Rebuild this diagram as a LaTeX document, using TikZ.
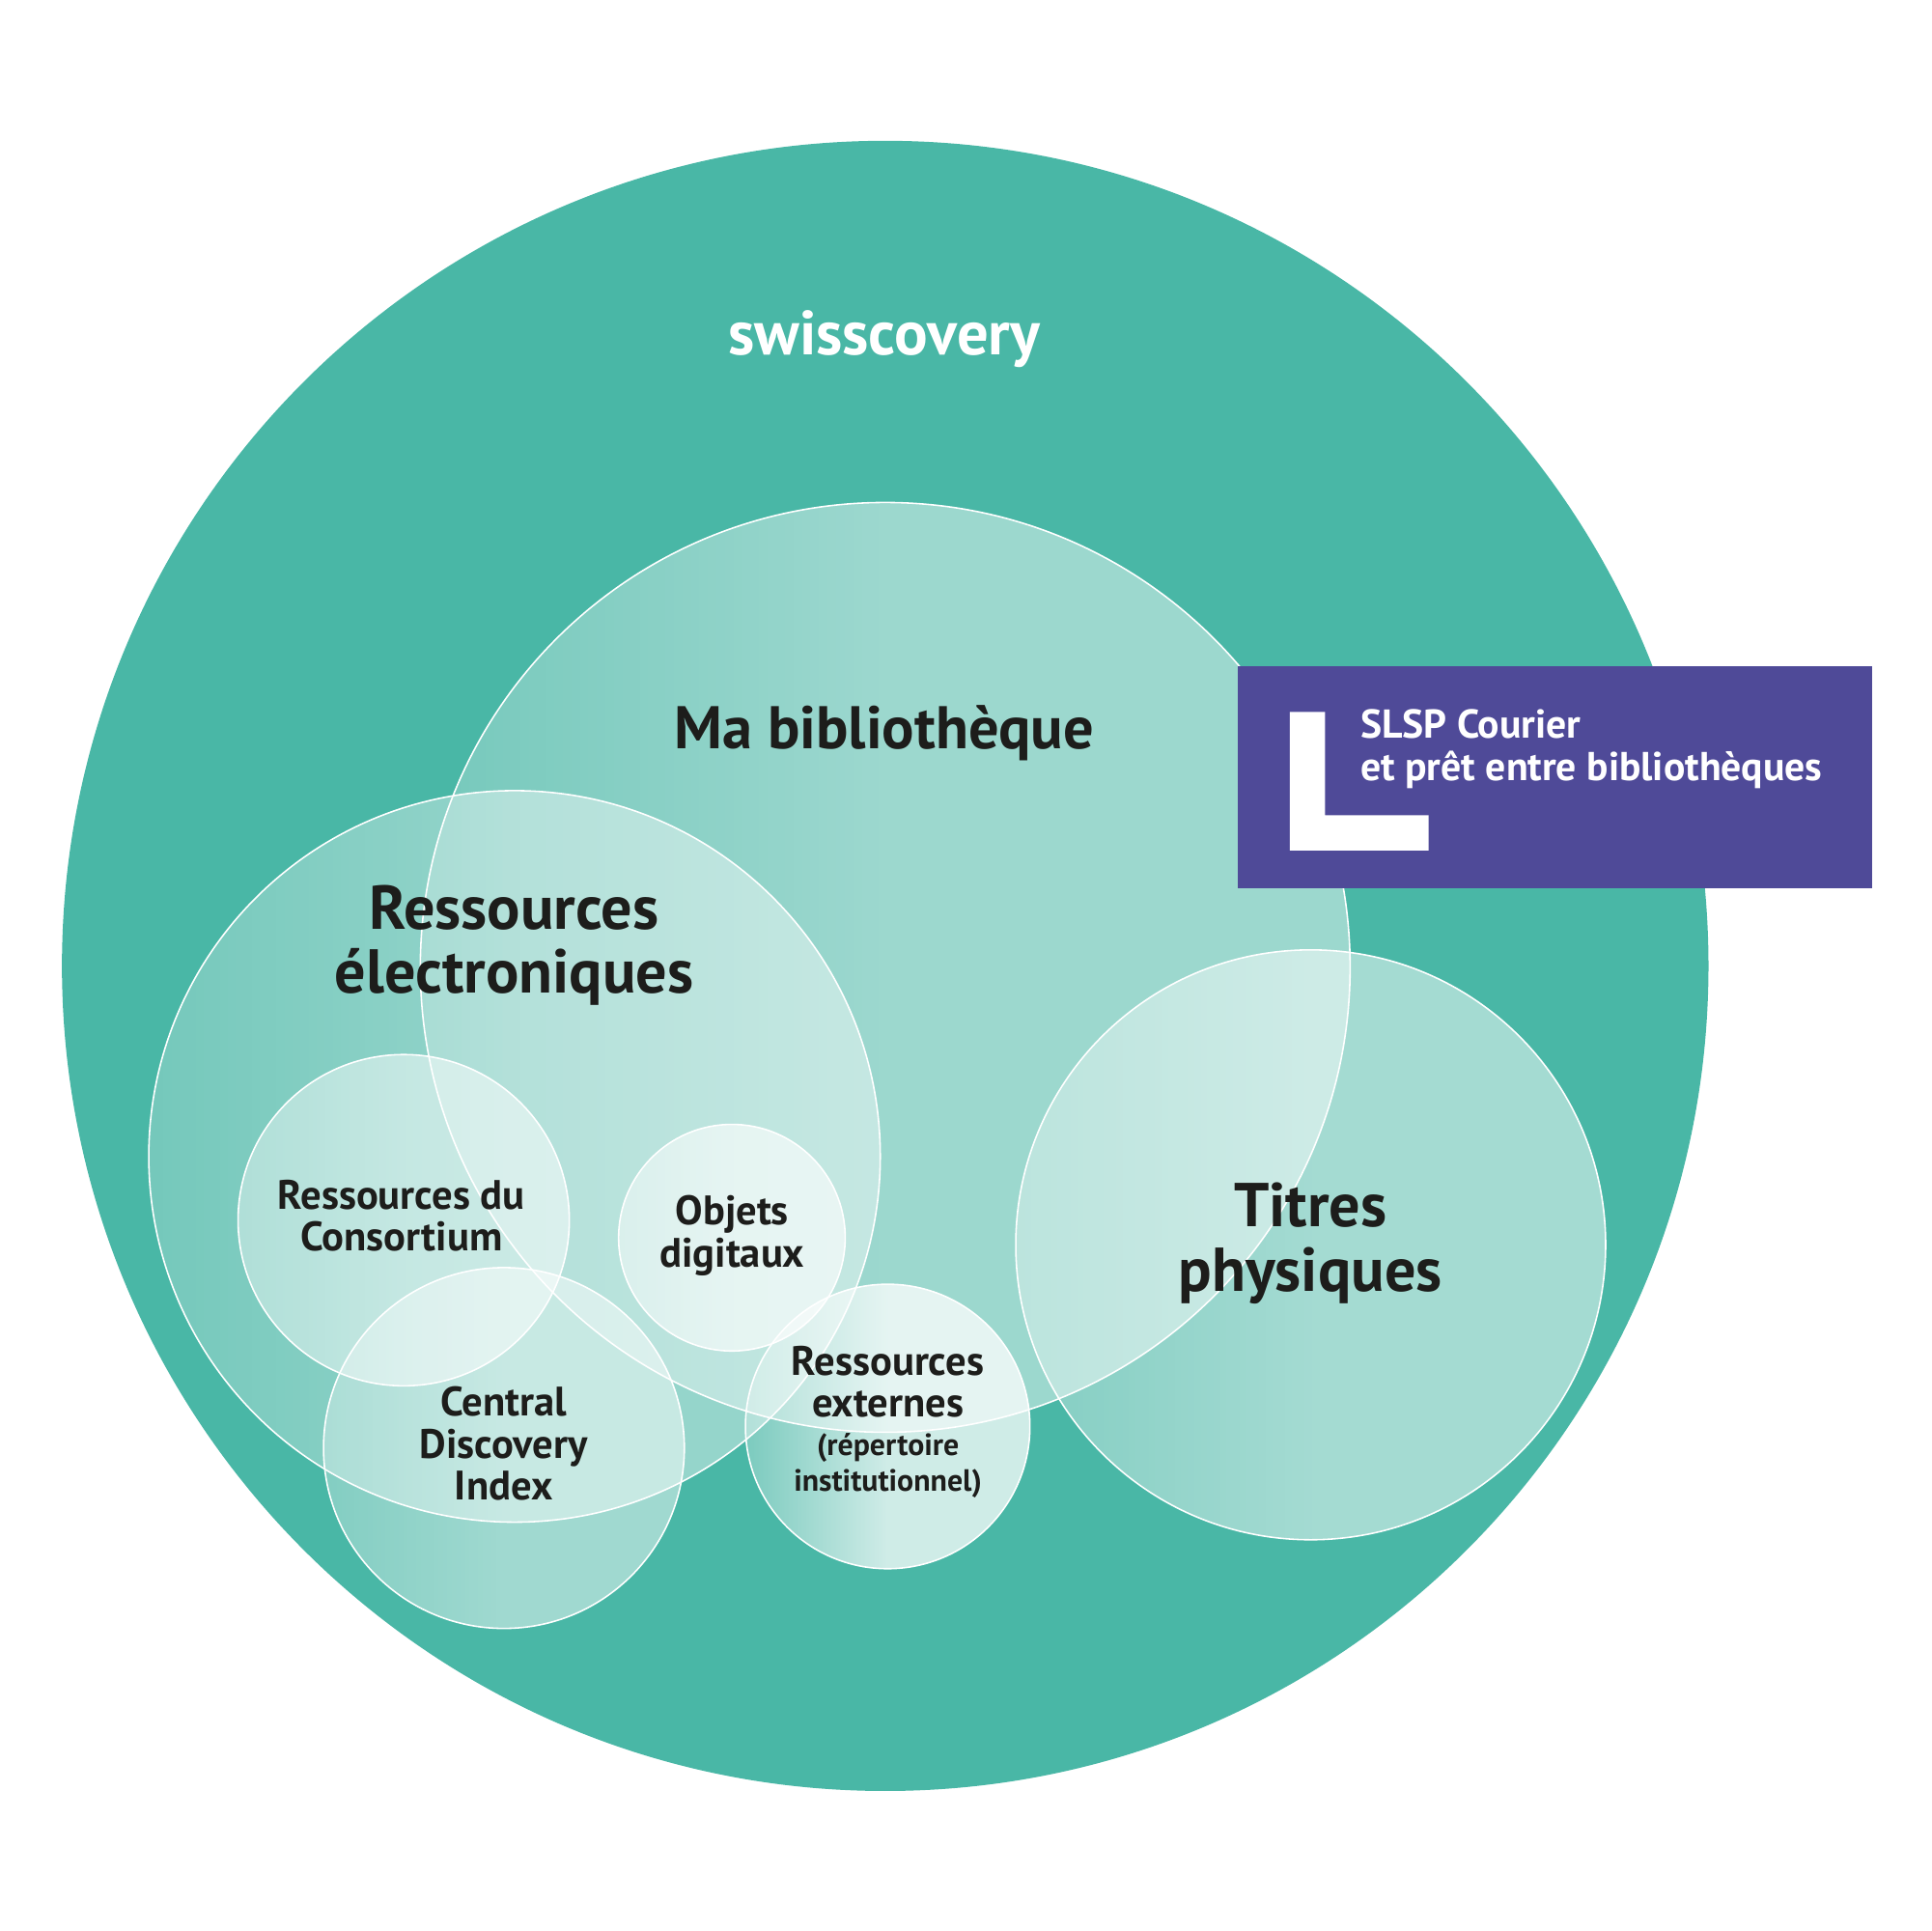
\documentclass[tikz,border=0pt]{standalone}
\usepackage{fontspec}
\setmainfont{PT Sans}
\usetikzlibrary{fadings}
\definecolor{tealbg}{HTML}{49B7A6}
\definecolor{slspblue}{HTML}{4F4A98}
\definecolor{inkblack}{HTML}{1D1D1B}
\newcommand{\makefade}[3]{%
	\pgfdeclarehorizontalshading{#1shade}{100bp}{color(0bp)=(transparent!#2); color(22bp)=(transparent!#2); color(50bp)=(transparent!#3); color(100bp)=(transparent!#3)}%
	\pgfdeclarefading{#1}{\pgfuseshading{#1shade}}}
\makefade{fademabib}{78}{54}
\makefade{fadeelec}{78}{58}
\makefade{fadetitres}{70}{50}
\makefade{fadeconsort}{62}{50}
\makefade{fadecdi}{70}{52}
\makefade{fadeobjets}{54}{38}
\makefade{fadeexternes}{78}{26}
\begin{document}
\begin{tikzpicture}[
			x=0.01cm,y=-0.01cm,
			bubble/.style 2 args={circle,draw=white,line width=0.35pt,inner sep=0pt,outer sep=0pt,minimum size=#1*0.01cm,
				preaction={fill=white,path fading=#2}},
			biglabel/.style={align=center,text=inkblack,font=\fontsize{14.3}{14.8}\selectfont\bfseries},
			midlabel/.style={align=center,text=inkblack,font=\fontsize{9.5}{9.7}\selectfont\bfseries},
			]
			\useasboundingbox (0,0) rectangle (1568,1568);
			\fill [tealbg] (718.8,784.3) circle [x radius=668.5,y radius=670] node (swiss) {};
			\node [bubble={755}{fademabib}] (mabib) at (718.8,785.5) {};
			\node [bubble={594}{fadeelec}] (elec) at (417.8,939) {};
			\node [bubble={479}{fadetitres}] (titres) at (1064.3,1010.8) {};
			\node [bubble={269}{fadeconsort}] (consort) at (327.8,990.8) {};
			\node [bubble={293}{fadecdi}] (cdi) at (409.2,1175.8) {};
			\node [bubble={184}{fadeobjets}] (objets) at (594.3,1005) {};
			\node [bubble={231}{fadeexternes}] (externes) at (720.8,1158.3) {};
			\node [rectangle,fill=slspblue,inner sep=0pt,outer sep=0pt,minimum width=515.4*0.01cm,minimum height=180.6*0.01cm] (slsp) at (1262.6,631) {};
			\fill [white] (1047.4,578) -- (1076,578) -- (1076,662) -- (1160,662) -- (1160,690.6) -- (1047.4,690.6) -- cycle;
			\node [text=white,font=\fontsize{14.4}{14.8}\selectfont\bfseries] (swisslabel) at (718,275) {swisscovery};
			\node [biglabel,font=\fontsize{13.9}{14.8}\selectfont\bfseries] (mabiblabel) at (718,595.5) {Ma bibliothèque};
			\node [biglabel] (eleclabel) at (417.5,767.5) {Ressources\\électroniques};
			\node [biglabel] (titreslabel) at (1064,1009.5) {Titres\\physiques};
			\node [midlabel] (consortlabel) at (326,987) {Ressources du\\Consortium};
			\node [midlabel] (objetslabel) at (594.5,1003.5) {Objets\\digitaux};
			\node [midlabel] (cdilabel) at (409,1172.5) {Central\\Discovery\\Index};
			\node [midlabel] (externeslabel) at (721,1122) {Ressources\\externes};
			\node [align=center,text=inkblack,font=\fontsize{7.1}{8.1}\selectfont\bfseries] (repertlabel) at (721,1190) {(répertoire\\institutionnel)};
			\node [align=left,anchor=west,inner sep=0pt,text=white,font=\fontsize{9.3}{9.7}\selectfont\bfseries] (slsplabel) at (1104,608) {SLSP Courier\\et prêt entre bibliothèques};
		\end{tikzpicture}
\end{document}
